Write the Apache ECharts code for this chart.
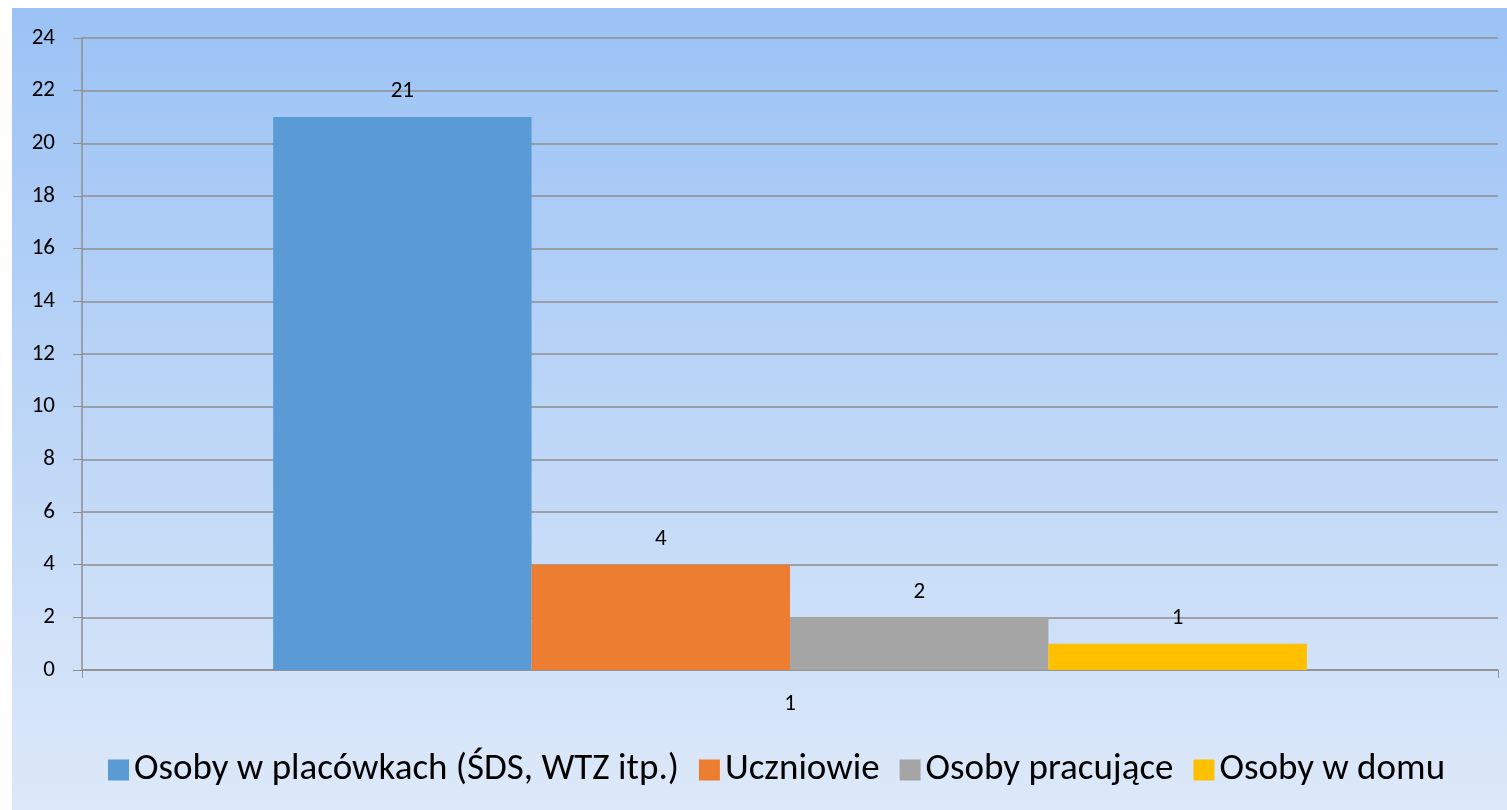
<!DOCTYPE html>
<html><head><meta charset="utf-8">
<script src="https://cdn.jsdelivr.net/npm/echarts@6/dist/echarts.min.js"></script>
<style>html,body{margin:0;padding:0;background:#fff}#c{width:1507px;height:810px}</style>
</head><body><div id="c"></div>
<script>
const categories = ['1'];
const seriesNames = ['Osoby w placówkach (ŚDS, WTZ itp.)', 'Uczniowie', 'Osoby pracujące', 'Osoby w domu'];
const seriesValues = [[21], [4], [2], [1]];
const seriesColors = ['#5b9bd5', '#ed7d31', '#a5a5a5', '#ffc000'];
const yTicks = [0, 2, 4, 6, 8, 10, 12, 14, 16, 18, 20, 22, 24];

const font = 'Carlito, Lato, sans-serif';
const chart = echarts.init(document.getElementById('c'));
chart.setOption({
  animation: false,
  textStyle: { fontFamily: font },
  graphic: [{
    type: 'rect', z: -10, silent: true,
    shape: { x: 12, y: 8, width: 1495, height: 802 },
    style: { fill: new echarts.graphic.LinearGradient(0, 0, 0, 1, [
      { offset: 0, color: '#9bc2f5' }, { offset: 1, color: '#dde9f9' }]) }
  }],
  grid: { left: 82, right: 9, top: 38, bottom: 140 },
  legend: {
    top: 745, left: 103, itemWidth: 21, itemHeight: 21, itemGap: 20,
    icon: 'rect',
    textStyle: { fontSize: 37, lineHeight: 40, color: '#000', fontFamily: font }
  },
  xAxis: {
    type: 'category', data: categories,
    axisLine: { lineStyle: { color: '#8e8e8e', width: 1.5 } },
    axisTick: { show: true, length: 8, lineStyle: { color: '#8e8e8e' } },
    axisLabel: { fontSize: 23, color: '#000', margin: 23 }
  },
  yAxis: {
    type: 'value', min: yTicks[0], max: yTicks[yTicks.length - 1], interval: 2,
    axisLine: { show: true, lineStyle: { color: '#8e8e8e', width: 1.5 } },
    axisTick: { show: true, length: 9, lineStyle: { color: '#8e8e8e' } },
    axisLabel: { fontSize: 23, color: '#000', margin: 27 },
    splitLine: { lineStyle: { color: '#8e8e8e', width: 1.5 } }
  },
  series: seriesNames.map((n, i) => ({
    type: 'bar', name: n, data: seriesValues[i],
    itemStyle: { color: seriesColors[i] },
    barGap: '0%', barCategoryGap: '27%',
    label: { show: true, position: 'top', distance: 14, fontSize: 23, color: '#000' }
  }))
});
</script></body></html>
